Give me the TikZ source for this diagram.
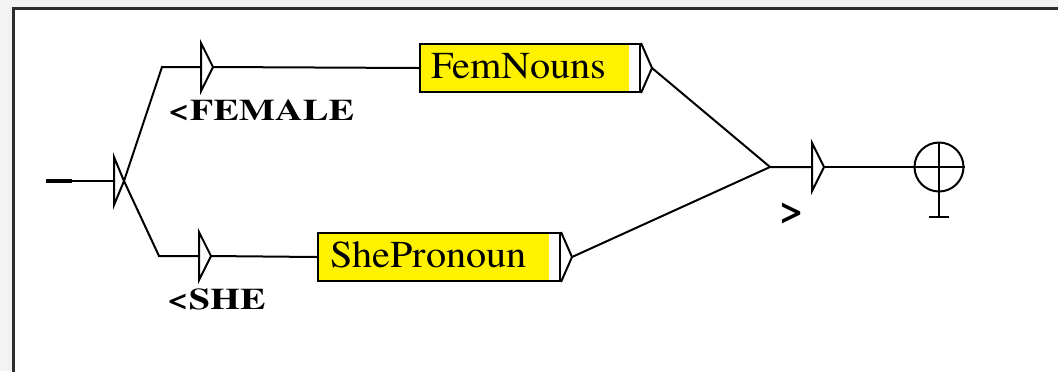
\documentclass[tikz,border=0pt]{standalone}
\usepackage{fontspec}
\setmainfont{texgyretermes}[Extension=.otf, UprightFont=*-regular, BoldFont=*-bold]
\usetikzlibrary{positioning}
\definecolor{pagegray}{RGB}{243,243,243}
\definecolor{framegray}{RGB}{45,45,45}
\newcommand{\boxtxt}[1]{\fontsize{19pt}{21pt}\selectfont\scalebox{1.06}[1]{#1}}
\newcommand{\outtxt}[1]{\fontsize{15pt}{18pt}\selectfont\bfseries\scalebox{1.28}[1]{#1}}
\tikzset{
  box/.style={draw, fill=white, minimum height=24pt, inner sep=0pt, anchor=north west,
    path picture={\fill[yellow] (path picture bounding box.north west) rectangle ([xshift=-5.5pt]path picture bounding box.south east);}},
  lbl/.style={anchor=base west, inner sep=0pt}
}

\begin{document}
\begin{tikzpicture}[x=0.5pt, y=-0.5pt, line width=1pt]
\useasboundingbox (0,0) rectangle (1058,371);
\clip (0,0) rectangle (1058,371);
\fill[pagegray] (0,0) rectangle (1058,371);
\draw[framegray, line width=1.5pt, fill=white] (13,390) -- (13,8) -- (1080,8) -- (1080,390) -- cycle;

% states
\foreach \n/\x/\y/\w in {init/114/181/10, fem/201/67/12, she/199/256/12, out/812/167/12}
{
    \draw (\x,\y-24) -- (\x+\w,\y) -- (\x,\y+24) -- cycle;
    \coordinate (\n-in) at (\x,\y);
    \coordinate (\n-tip) at (\x+\w,\y);
}

% boxes
\node[box, minimum width=110pt] (femnouns) at (419,43) {};
\coordinate (femout) at ([xshift=5.5pt]femnouns.east);
\draw (femnouns.north east) -- (femout) -- (femnouns.south east);
\node[lbl] (femtxt) at (430,78) {\boxtxt{FemNouns}};

\node[box, minimum width=121pt] (shepronoun) at (317,232) {};
\coordinate (sheout) at ([xshift=5.5pt]shepronoun.east);
\draw (shepronoun.north east) -- (sheout) -- (shepronoun.south east);
\node[lbl] (shetxt) at (329,267) {\boxtxt{ShePronoun}};

% outputs
\node[lbl] (femlbl) at (167,120) {\outtxt{<FEMALE}};
\node[lbl] (shelbl) at (166,309) {\outtxt{<SHE}};
\node (gt) at (792,213) {\fontsize{20pt}{20pt}\selectfont\bfseries\scalebox{1.1}[1]{>}};

% final state
\node[draw, circle, minimum size=24.5pt, inner sep=0pt] (final) at (939,167) {};
\coordinate (finalfoot) at (939,217);
\draw (final.west) -- (final.east);
\draw (final.north) -- (finalfoot);
\draw ([xshift=-5pt]finalfoot) -- ([xshift=5pt]finalfoot);

% connectors
\coordinate (start) at (46,181);
\coordinate (startend) at (72,181);
\coordinate (upcorner) at (162,67);
\coordinate (downcorner) at (159,256);
\coordinate (merge) at (770,167);
\draw[line width=2pt] (start) -- (startend);
\draw (startend) -- (init-in);
\draw (init-tip) -- (upcorner) -- (fem-in);
\draw (init-tip) -- (downcorner) -- (she-in);
\draw (fem-tip) -- (femnouns.west);
\draw (she-tip) -- (shepronoun.west);
\draw (femout) -- (merge);
\draw (sheout) -- (merge) -- (out-in);
\draw (out-tip) -- (final.west);

\end{tikzpicture}
\end{document}
